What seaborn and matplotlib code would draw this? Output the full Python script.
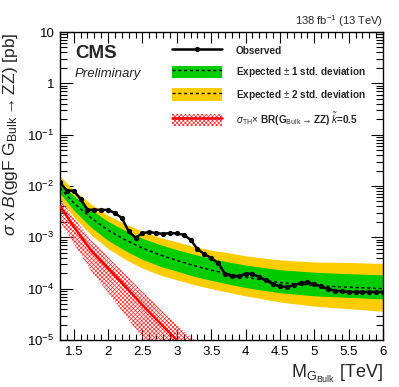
import numpy as np
import pandas as pd
import matplotlib
matplotlib.use("Agg")
import matplotlib.pyplot as plt
import seaborn as sns
from matplotlib.patches import Patch
from matplotlib.lines import Line2D
from matplotlib.ticker import MultipleLocator, LogLocator, FuncFormatter, NullFormatter, FixedLocator

# ---------------- data ----------------
mass_obs = [1.3, 1.4, 1.5, 1.6, 1.7, 1.8, 1.9, 2.0, 2.1, 2.2, 2.3, 2.4, 2.5, 2.6, 2.7, 2.8,
            2.9, 3.0, 3.1, 3.2, 3.3, 3.4, 3.5, 3.6, 3.7, 3.8, 3.9, 4.0, 4.1, 4.2, 4.3, 4.4,
            4.5, 4.6, 4.7, 4.8, 4.9, 5.0, 5.1, 5.2, 5.3, 5.4, 5.5, 5.6, 5.7, 5.8, 5.9, 6.0]
observed = [0.0117, 0.00817, 0.00807, 0.00556, 0.00344, 0.00344, 0.00344, 0.00340, 0.00297,
            0.00238, 0.00130, 0.00098, 0.00121, 0.00127, 0.00121, 0.00117,
            0.00121, 0.00119, 0.00112, 0.000898, 0.000592, 0.000473, 0.000395, 0.000316,
            0.000196, 0.000173, 0.000173, 0.000196, 0.000196, 0.000168, 0.000145, 0.000123,
            0.000111, 0.000108, 0.000116, 0.000129, 0.000133, 0.000123, 0.000111, 0.0000986,
            0.0000914, 0.0000885, 0.0000862, 0.0000862, 0.0000862, 0.0000862, 0.0000862, 0.0000862]

mass_exp = [1.3, 1.5, 1.75, 2.0, 2.25, 2.5, 2.75, 3.0, 3.25, 3.5, 3.75, 4.0, 4.5, 5.0, 5.5, 6.0]
exp_median = [0.00912, 0.00468, 0.0024, 0.00138, 0.000891, 0.000617, 0.000457, 0.000355,
              0.000282, 0.000229, 0.000195, 0.000166, 0.000132, 0.000115, 0.000107, 0.0001]
exp_up1 = [0.0120, 0.00646, 0.00347, 0.00204, 0.00135, 0.000955, 0.000724, 0.000575,
           0.000468, 0.000389, 0.000331, 0.000288, 0.000234, 0.000209, 0.000195, 0.000186]
exp_dn1 = [0.00724, 0.00339, 0.00158, 0.000871, 0.00055, 0.000372, 0.000275, 0.000219,
           0.000174, 0.000145, 0.000123, 0.000105, 0.0000832, 0.0000724, 0.0000676, 0.0000631]
exp_up2 = [0.0155, 0.00832, 0.00447, 0.00269, 0.00182, 0.00132, 0.0010, 0.000813,
           0.000661, 0.000562, 0.000501, 0.000437, 0.000363, 0.000331, 0.000324, 0.000309]
exp_dn2 = [0.00575, 0.00251, 0.00112, 0.000603, 0.000372, 0.000251, 0.000186, 0.000148,
           0.00012, 0.0001, 0.0000851, 0.0000724, 0.000055, 0.0000457, 0.0000407, 0.0000363]

mass_th = [1.3, 1.5, 1.75, 2.0, 2.25, 2.5, 2.75, 3.0, 3.25, 3.5]
theory = [0.00407, 0.00162, 0.000562, 0.000251, 0.00011, 0.0000479, 0.0000219, 0.00001,
          0.00000479, 0.00000229]
theory_up = [0.00575, 0.0024, 0.000891, 0.000417, 0.000191, 0.0000871, 0.0000417, 0.00002,
             0.00001, 0.000005]
theory_dn = [0.00204, 0.000759, 0.000224, 0.0000832, 0.0000302, 0.000011, 0.00000417,
             0.00000158, 0.00000063, 0.00000025]

x_major = [1.5, 2, 2.5, 3, 3.5, 4, 4.5, 5, 5.5, 6]
x_major_labels = ["1.5", "2", "2.5", "3", "3.5", "4", "4.5", "5", "5.5", "6"]

legend_labels = ["Observed",
                 r"Expected $\pm$ 1 std. deviation",
                 r"Expected $\pm$ 2 std. deviation",
                 r"$\sigma_{\mathrm{TH}}$$\times$ BR(G$_{\mathrm{Bulk}}$$\rightarrow$ZZ) $\tilde{k}$=0.5"]

# ---------------- style ----------------
sns.set_theme(style="ticks")
plt.rcParams["font.family"] = ["Liberation Sans", "DejaVu Sans"]
plt.rcParams["mathtext.fontset"] = "custom"
plt.rcParams["mathtext.rm"] = "Liberation Sans"
plt.rcParams["mathtext.it"] = "Liberation Sans:italic"
plt.rcParams["mathtext.bf"] = "Liberation Sans:bold"
plt.rcParams["hatch.linewidth"] = 0.5
plt.rcParams["axes.edgecolor"] = "black"
plt.rcParams["axes.linewidth"] = 1.0

GREEN = "#00cc00"
YELLOW = "#ffcc00"
HATCH = "xxxxxxxx"

fig = plt.figure(figsize=(3.99, 3.87), dpi=100)
ax = fig.add_axes([60 / 399, 1 - 340 / 387, 323 / 399, 308 / 387])

df_obs = pd.DataFrame({"mass": mass_obs, "limit": observed})
df_exp = pd.DataFrame({"mass": mass_exp, "median": exp_median, "up1": exp_up1,
                       "dn1": exp_dn1, "up2": exp_up2, "dn2": exp_dn2})
df_th = pd.DataFrame({"mass": mass_th, "xs": theory, "up": theory_up, "dn": theory_dn})

ax.fill_between(df_exp["mass"], df_exp["dn2"], df_exp["up2"], color=YELLOW, lw=0, zorder=1)
ax.fill_between(df_exp["mass"], df_exp["dn1"], df_exp["up1"], color=GREEN, lw=0, zorder=2)
sns.lineplot(data=df_exp, x="mass", y="median", ax=ax, color="black", lw=1.0,
             linestyle=(0, (2.2, 2.0)), zorder=3)

ax.fill_between(df_th["mass"], df_th["dn"], df_th["up"], facecolor="none", edgecolor="#ff3030",
                hatch=HATCH, lw=0, zorder=2)
sns.lineplot(data=df_th, x="mass", y="xs", ax=ax, color="red", lw=1.8, zorder=4)

sns.lineplot(data=df_obs, x="mass", y="limit", ax=ax, color="black", lw=1.8,
             marker="o", markersize=3.8, markeredgewidth=0, zorder=5)

ax.set_yscale("log")
ax.set_xlim(1.3, 6.0)
ax.set_ylim(1e-5, 10)

ax.xaxis.set_major_locator(FixedLocator(x_major))
ax.set_xticklabels(x_major_labels)
ax.xaxis.set_minor_locator(MultipleLocator(0.1))
ax.xaxis.set_minor_formatter(NullFormatter())
ax.yaxis.set_major_locator(LogLocator(base=10, numticks=20))
ax.yaxis.set_minor_locator(LogLocator(base=10, subs=np.arange(2, 10), numticks=20))
ax.yaxis.set_minor_formatter(NullFormatter())


def yfmt(v, pos):
    e = int(round(np.log10(v)))
    if e == 1:
        return "10"
    if e == 0:
        return "1"
    return r"$10^{%d}$" % e


ax.yaxis.set_major_formatter(FuncFormatter(yfmt))
ax.tick_params(which="both", direction="in", top=True, right=True, colors="black",
               labelsize=9.5, width=0.8)
ax.tick_params(which="major", length=8, pad=4)
ax.tick_params(which="minor", length=4)
ax.tick_params(axis="y", which="major", length=9)
ax.tick_params(axis="y", which="minor", length=5)

ax.set_xlabel(r"M$_{\mathrm{G_{Bulk}}}$ [TeV]", fontsize=13, ha="right", x=1.0)
ax.xaxis.set_label_coords(1.0, -0.075)
ax.set_ylabel(r"$\sigma$ x $\mathit{B}$(ggF G$_{\mathrm{Bulk}}$$\rightarrow$ZZ) [pb]",
              fontsize=12.5, ha="right", y=1.0)
ax.yaxis.set_label_coords(-0.125, 1.0)

fig.text(383 / 399, 1 - 25 / 387, r"138 fb$^{-1}$ (13 TeV)", ha="right", va="baseline",
         fontsize=8)
ax.text(75 / 399, 1 - 58 / 387, "CMS", transform=fig.transFigure, fontsize=13.5,
        fontweight="bold", va="baseline", ha="left")
ax.text(75 / 399, 1 - 77 / 387, "Preliminary", transform=fig.transFigure, fontsize=9.5,
        style="italic", va="baseline", ha="left")

dash = (0, (2.2, 2.0))
handles = [
    Line2D([], [], color="black", lw=1.8, marker="o", markersize=3.8, markeredgewidth=0),
    (Patch(facecolor=GREEN, edgecolor=GREEN, lw=0),
     Line2D([], [], color="black", lw=1.0, linestyle=dash)),
    (Patch(facecolor=YELLOW, edgecolor=YELLOW, lw=0),
     Line2D([], [], color="black", lw=1.0, linestyle=dash)),
    (Patch(facecolor="none", edgecolor="#ff3030", hatch=HATCH, lw=0),
     Line2D([], [], color="red", lw=1.8)),
]
leg = ax.legend(handles, legend_labels, loc="upper left",
                bbox_to_anchor=((172 - 60) / 323, (340 - 44.5) / 308),
                frameon=False, fontsize=7.2, handlelength=5.0, handleheight=1.5,
                handletextpad=1.35, labelspacing=0.85, borderpad=0, borderaxespad=0,
                numpoints=1)
for t in leg.get_texts():
    t.set_fontweight("bold")

fig.savefig("out.png", dpi=100)
